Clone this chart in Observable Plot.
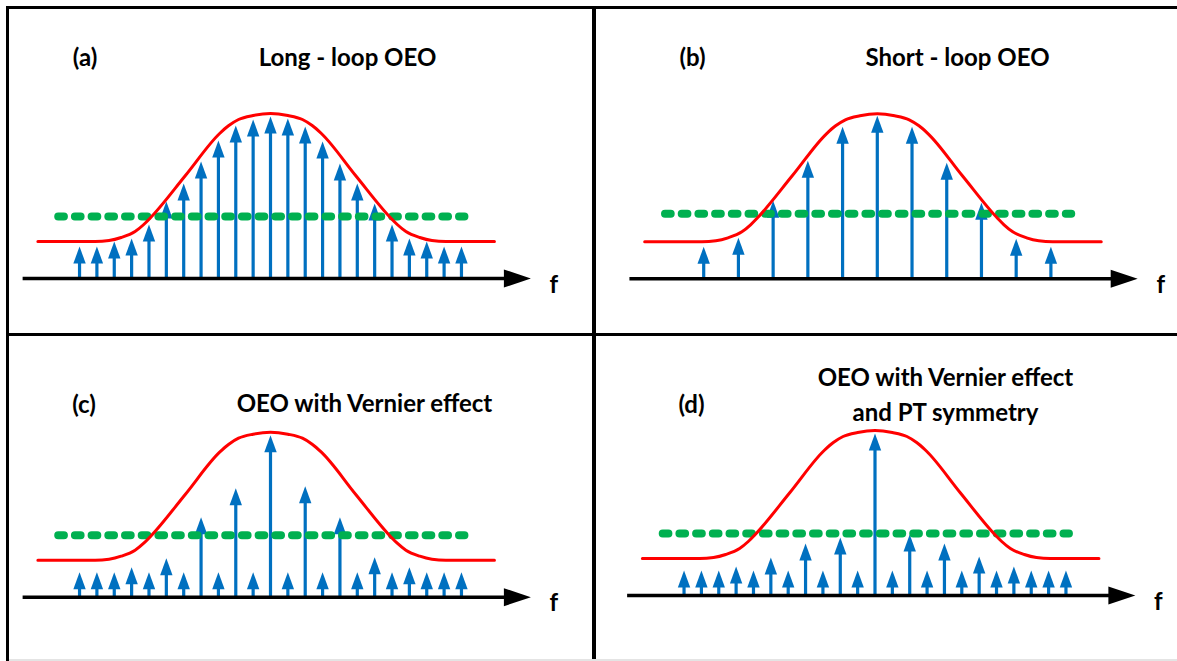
<!DOCTYPE html>
<html>
<head>
<meta charset="utf-8">
<script src="https://cdn.jsdelivr.net/npm/d3@7"></script>
<script src="https://cdn.jsdelivr.net/npm/@observablehq/plot@0.6"></script>
<style>
  html, body { margin: 0; padding: 0; background: #fff; }
  #fig { position: relative; width: 1177px; height: 661px; overflow: hidden; background: #fff; }
  .panel { position: absolute; }
  .panel svg { display: block; background: transparent; }
  .rule { position: absolute; background: #000; z-index: 2; }
</style>
</head>
<body>
<div id="fig"></div>
<script>
// Oscillation modes, indexed relative to the filter centre frequency
const modesDense  = [-11, -10, -9, -8, -7, -6, -5, -4, -3, -2, -1, 0, 1, 2, 3, 4, 5, 6, 7, 8, 9, 10, 11];
const modesSparse = [-10, -8, -6, -4, -2, 0, 2, 4, 6, 8, 10];

// Mode amplitudes for each oscillator configuration
const ampLongLoop  = [32, 32, 37, 40, 54, 77, 95, 117, 138, 153, 159, 162, 160, 152, 137, 115, 95, 75, 54, 40, 37, 32, 32];
const ampShortLoop = [32, 41, 78, 118, 152, 163, 152, 116, 76, 40, 32];
const ampVernier   = [25, 25, 25, 30, 25, 39, 25, 80, 25, 109, 25, 162, 25, 111, 25, 80, 25, 40, 25, 30, 25, 25, 25];
const ampVernierPT = [25, 25, 25, 29, 25, 38, 25, 52, 25, 58, 25, 162, 25, 61, 25, 52, 25, 39, 25, 29, 25, 25, 25];

// Flat-top microwave filter response
const filterFreq = [-13.4, -10.1, -9.3, -8.6, -7.8, -7.3, -6.9, -4.9, -2.93, -2.4, -1.84, -1.0, 0,
                    1.0, 1.84, 2.4, 2.93, 4.9, 6.9, 7.3, 7.8, 8.6, 9.3, 10.1, 12.9];
const filterGain = [37, 37, 38, 41, 47, 54, 61, 103, 145, 153, 159, 163, 165,
                    163, 159, 153, 145, 103, 61, 54, 47, 41, 38, 37, 37];

// Oscillation threshold (loss level) per configuration, and its frequency span
const thresholdLevel = [62, 65, 62, 62];
const thresholdSpan = [-12.2, 11.2];

// Frequency axis span (start, arrow tip)
const axisSpan = [-14.25, 15.0];

// Panel labels and titles
const panelLabels = ["(a)", "(b)", "(c)", "(d)"];
const panelTitles = ["Long - loop OEO", "Short - loop OEO", "OEO with Vernier effect", "OEO with Vernier effect\nand PT symmetry"];

const BLUE = "#0070C0", RED = "#FF0000", GREEN = "#00B050";
const FONT = "Lato, 'Open Sans', sans-serif";
const SPACING = 17.36; // px per mode index

// Filled arrowheads drawn as custom symbols (tip at the anchor point)
const upHead = {draw(ctx) { ctx.moveTo(0, 0); ctx.lineTo(6.2, 17); ctx.lineTo(-6.2, 17); ctx.closePath(); }};
const rightHead = {draw(ctx) { ctx.moveTo(0, 0); ctx.lineTo(-27, -9); ctx.lineTo(-27, 9); ctx.closePath(); }};

// label / title: [centre x, baseline y] within each panel
const layout = [
  {left: 0,   top: 0,   width: 594, height: 334, cx: 270,   axisY: 278,   label: [84.5, 65], title: [347, 65]},
  {left: 594, top: 0,   width: 583, height: 334, cx: 282.8, axisY: 278.3, label: [98, 65],   title: [363, 65]},
  {left: 0,   top: 334, width: 594, height: 327, cx: 270,   axisY: 262.7, label: [83.5, 78], title: [364, 77.5]},
  {left: 594, top: 334, width: 583, height: 327, cx: 280.5, axisY: 261,   label: [97, 78],   title: [351, 86.5]}
];
const series = [
  [modesDense, ampLongLoop],
  [modesSparse, ampShortLoop],
  [modesDense, ampVernier],
  [modesDense, ampVernierPT]
];

const filter = filterFreq.map((f, i) => ({f, g: filterGain[i]}));
const fig = document.getElementById("fig");
const textStyle = {fontSize: 24, fontWeight: "bold", fontFamily: FONT, fill: "black", lineAnchor: "bottom", textAnchor: "middle"};

layout.forEach((cfg, k) => {
  const [modes, amps] = series[k];
  const arrows = modes.map((f, i) => ({f, a: amps[i]}));
  const chart = Plot.plot({
    width: cfg.width,
    height: cfg.height,
    margin: 0,
    style: {background: "transparent"},
    x: {domain: [-11, 11], range: [cfg.cx - 11 * SPACING, cfg.cx + 11 * SPACING], axis: null},
    y: {domain: [0, 100], range: [cfg.axisY, cfg.axisY - 100], axis: null},
    marks: [
      // mode lines
      Plot.ruleX(arrows, {x: "f", y1: 0, y2: d => d.a - 10, stroke: BLUE, strokeWidth: 3.2}),
      Plot.dot(arrows, {x: "f", y: "a", symbol: upHead, fill: BLUE, stroke: null}),
      // threshold
      Plot.ruleY([thresholdLevel[k]], {y: d => d, x1: thresholdSpan[0], x2: thresholdSpan[1],
        stroke: GREEN, strokeWidth: 8, strokeDasharray: "5.7,11", strokeLinecap: "round"}),
      // filter response
      Plot.line(filter, {x: "f", y: "g", curve: "monotone-x", stroke: RED, strokeWidth: 3}),
      // frequency axis
      Plot.ruleY([0], {x1: axisSpan[0], x2: axisSpan[1] - 1, stroke: "black", strokeWidth: 3.5}),
      Plot.dot([axisSpan[1]], {x: d => d, y: 0, symbol: rightHead, fill: "black", stroke: null}),
      Plot.text(["f"], {...textStyle, x: axisSpan[1], y: 0, dx: 23, dy: 14, text: d => d, fontSize: 24}),
      // labels
      Plot.text([panelLabels[k]], {...textStyle, frameAnchor: "top-left", text: d => d, dx: cfg.label[0], dy: cfg.label[1]}),
      Plot.text([panelTitles[k]], {...textStyle, frameAnchor: "top-left", text: d => d, dx: cfg.title[0], dy: cfg.title[1], lineHeight: 1.46})
    ]
  });
  const div = document.createElement("div");
  div.className = "panel";
  Object.assign(div.style, {left: cfg.left + "px", top: cfg.top + "px", width: cfg.width + "px", height: cfg.height + "px"});
  div.appendChild(chart);
  fig.appendChild(div);
});

// Panel frame lines
[
  {left: 6, top: 6, width: 3, height: 655},
  {left: 6, top: 6, width: 1171, height: 3},
  {left: 592, top: 6, width: 3.5, height: 655},
  {left: 6, top: 333, width: 1171, height: 3.2}
].forEach(r => {
  const d = document.createElement("div");
  d.className = "rule";
  Object.assign(d.style, {left: r.left + "px", top: r.top + "px", width: r.width + "px", height: r.height + "px"});
  fig.appendChild(d);
});
const edge = document.createElement("div");
edge.className = "rule";
Object.assign(edge.style, {left: "9px", top: "659px", width: "1168px", height: "1.5px", background: "#e4e4e4"});
fig.appendChild(edge);
</script>
</body>
</html>
